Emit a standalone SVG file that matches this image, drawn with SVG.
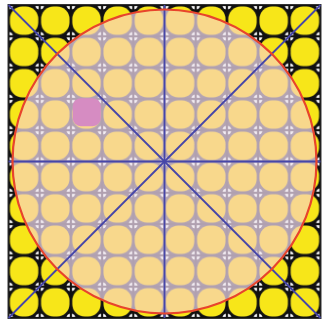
<svg xmlns="http://www.w3.org/2000/svg" width="324" height="323" viewBox="0 0 324 323">
<style>
.blue{stroke:#4646a8;stroke-width:1.8;fill:none}
.ring{fill:none;stroke:#e8442c;stroke-width:2.2}
</style>
<defs>
<pattern id="outer" patternUnits="userSpaceOnUse" x="8.5" y="5" width="31.2" height="31.3">
<rect width="31.2" height="31.3" fill="#111"/>
<g fill="#fff"><circle cx="0" cy="0" r="4.5"/><circle cx="31.2" cy="0" r="4.5"/><circle cx="0" cy="31.3" r="4.5"/><circle cx="31.2" cy="31.3" r="4.5"/></g>
<g fill="#111"><rect x="0" y="0" width="31.2" height="1.1"/><rect x="0" y="30.2" width="31.2" height="1.1"/><rect x="0" y="0" width="1.1" height="31.3"/><rect x="30.1" y="0" width="1.1" height="31.3"/></g>
<rect x="1.4" y="1.4" width="28.4" height="28.5" rx="12.5" fill="#f7e619"/>
</pattern>
<pattern id="inner" patternUnits="userSpaceOnUse" x="8.5" y="5" width="31.2" height="31.3">
<rect width="31.2" height="31.3" fill="#b4a4b2"/>
<g fill="#f4eef4"><circle cx="0" cy="0" r="4.5"/><circle cx="31.2" cy="0" r="4.5"/><circle cx="0" cy="31.3" r="4.5"/><circle cx="31.2" cy="31.3" r="4.5"/></g>
<g fill="#b0a0b0"><rect x="0" y="0" width="31.2" height="1.1"/><rect x="0" y="30.2" width="31.2" height="1.1"/><rect x="0" y="0" width="1.1" height="31.3"/><rect x="30.1" y="0" width="1.1" height="31.3"/></g>
<rect x="1.4" y="1.4" width="28.4" height="28.5" rx="12.5" fill="#f8d88c"/>
</pattern>
<clipPath id="cc"><circle cx="164.5" cy="161.5" r="152"/></clipPath>
</defs>
<rect width="324" height="323" fill="#fff"/>
<g id="grid">
<rect x="7.5" y="4" width="314" height="315" fill="#333"/>
<rect x="8.5" y="5" width="312" height="313" fill="url(#outer)"/>
</g>
<g id="disc">
<rect x="8.5" y="5" width="312" height="313" fill="url(#inner)" clip-path="url(#cc)"/>
<rect x="72.8" y="98.2" width="28" height="28" rx="8" fill="#d68cc2"/>
</g>
<g id="lines">
<line class="blue" x1="164.5" y1="5" x2="164.5" y2="318"/>
<line class="blue" x1="8.5" y1="161.5" x2="320.5" y2="161.5"/>
<line class="blue" x1="8.5" y1="5" x2="320.5" y2="318"/>
<line class="blue" x1="320.5" y1="5" x2="8.5" y2="318"/>
</g>
<circle class="ring" cx="164.5" cy="161.5" r="152"/>
</svg>
